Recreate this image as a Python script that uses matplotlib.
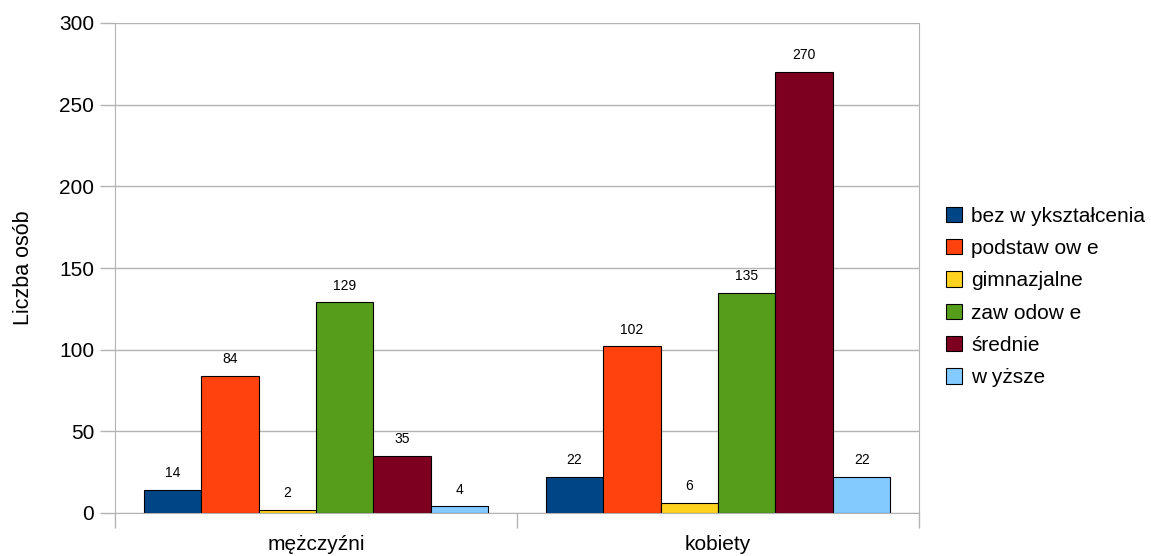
import numpy as np
import matplotlib.pyplot as plt
from matplotlib.ticker import FixedLocator

plt.rcParams['font.family'] = ['Liberation Sans', 'DejaVu Sans']

groups = ['mężczyźni', 'kobiety']
series = ['bez w ykształcenia', 'podstaw ow e', 'gimnazjalne',
          'zaw odow e', 'średnie', 'w yższe']
values = [
    [14, 22],
    [84, 102],
    [2, 6],
    [129, 135],
    [35, 270],
    [4, 22],
]
colors = ['#004586', '#ff420e', '#ffd320', '#579d1c', '#7e0021', '#83caff']

fig = plt.figure(figsize=(11.51, 5.56), dpi=100)
ax = fig.add_axes([115 / 1151, 1 - 513 / 556, (919 - 115) / 1151, (513 - 23) / 556])

n = len(series)
bw = 0.143
centers = np.arange(len(groups)) + 0.5
for i, (name, vals, c) in enumerate(zip(series, values, colors)):
    x = centers + (i - (n - 1) / 2) * bw
    bars = ax.bar(x, vals, width=bw, color=c, edgecolor='black', linewidth=0.8,
                  label=name, zorder=3)
    for b, v in zip(bars, vals):
        ax.text(b.get_x() + b.get_width() / 2, v + 6, str(v),
                ha='center', va='bottom', fontsize=10)

ax.set_xlim(0, len(groups))
ax.set_ylim(0, 300)
ax.set_yticks(np.arange(0, 301, 50))
ax.yaxis.grid(True, color='#b3b3b3', linewidth=1, zorder=0)
ax.set_xticks(centers)
ax.set_xticklabels(groups, fontsize=15)
ax.xaxis.set_minor_locator(FixedLocator(np.arange(len(groups) + 1)))
ax.tick_params(axis='x', which='major', length=0, pad=16)
ax.tick_params(axis='x', which='minor', length=11, color='#b3b3b3', width=1)
ax.tick_params(axis='y', length=11, color='#b3b3b3', width=1, labelsize=15, pad=4)
for s in ['left', 'right', 'bottom']:
    ax.spines[s].set_color('#b3b3b3')
ax.spines['top'].set_visible(False)
ax.set_ylabel('Liczba osób', fontsize=15.5, labelpad=18)

fig.legend(loc='center left', bbox_to_anchor=(938 / 1151, 1 - 297 / 556),
           frameon=False, fontsize=15, handlelength=0.75, handleheight=0.75,
           handletextpad=0.45, labelspacing=0.64, borderaxespad=0)

fig.savefig('out.png', dpi=100)
